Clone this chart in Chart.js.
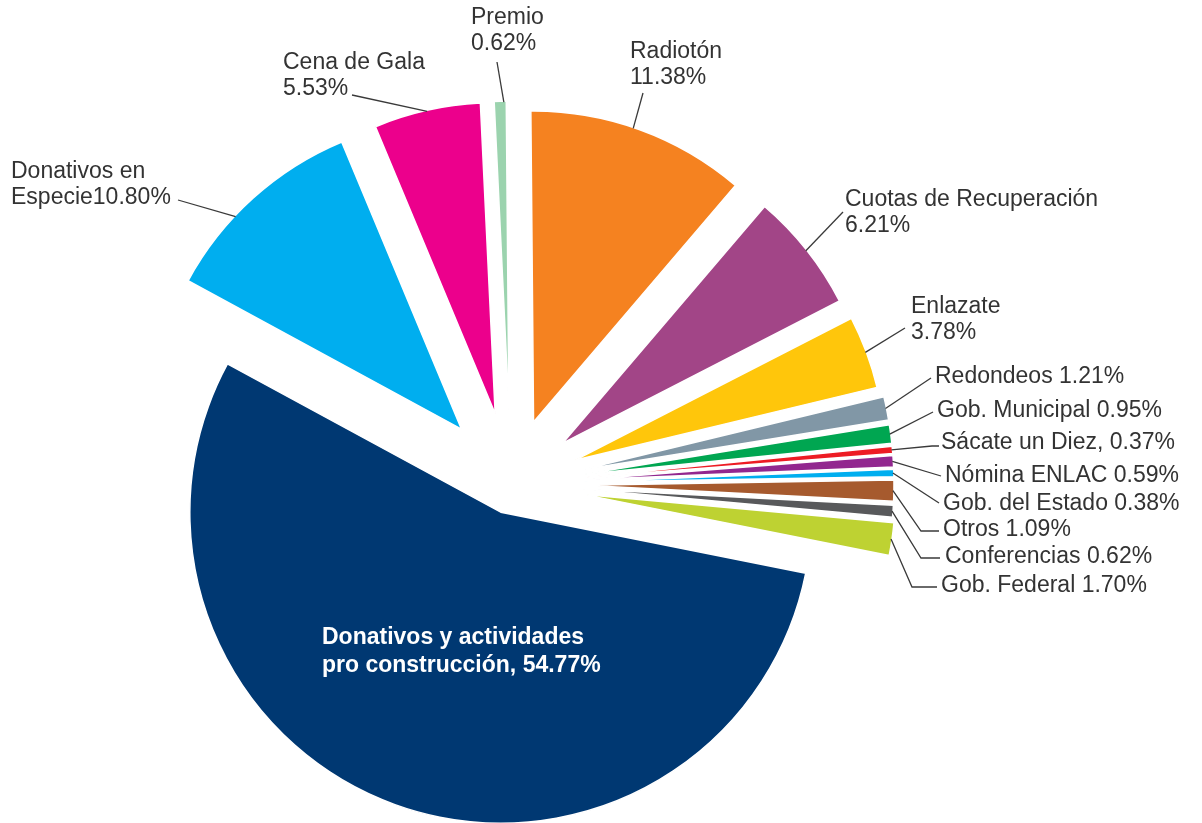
<!DOCTYPE html>
<html lang="es">
<head>
<meta charset="utf-8">
<title>Fuentes de ingreso</title>
<script src="https://cdn.jsdelivr.net/npm/chart.js@4.4.0/dist/chart.umd.min.js"></script>
<style>
  html, body { margin: 0; padding: 0; background: #fff; }
  canvas { display: block; }
</style>
</head>
<body>
<canvas id="pie" width="1202" height="823"></canvas>
<script>
/* Exploded pie of income sources */

const categories = [
    'Radiotón', 'Cuotas de Recuperación', 'Enlazate', 'Redondeos', 'Gob. Municipal',
    'Sácate un Diez,', 'Nómina ENLAC', 'Gob. del Estado', 'Otros', 'Conferencias',
    'Gob. Federal', 'Donativos y actividades pro construcción,', 'Donativos en Especie',
    'Cena de Gala', 'Premio'
];
const values = [11.38, 6.21, 3.78, 1.21, 0.95, 0.37, 0.59, 0.38, 1.09, 0.62, 1.70, 54.77, 10.80, 5.53, 0.62];
const colors = [
    '#f58220', '#a24587', '#ffc60b', '#8197a6', '#00a651',
    '#ed1c24', '#92278f', '#00aeef', '#a65a2e', '#58595b',
    '#bed232', '#003872', '#00aeef', '#ec008c', '#9bd3ae'
];

// how far each slice is pulled out of the pie, in px
const explode = [66, 66, 68, 72, 72, 72, 72, 72, 72, 72, 74, 30, 74, 72, 72];

// label text position (left x, first line middle y), how to wrap, leader line points
const labelLayout = [
    { x: 630, y: 52,  sep: '\n', pts: [[643, 93]], at: 0.47 },
    { x: 845, y: 200, sep: '\n', pts: [[843, 212]] },
    { x: 911, y: 307, sep: '\n', pts: [[905, 328]] },
    { x: 935, y: 377, sep: ' ', pts: [[931, 378]] },
    { x: 937, y: 411, sep: ' ', pts: [[933, 412]] },
    { x: 941, y: 443, sep: ' ', pts: [[932, 446], [939, 446]] },
    { x: 945, y: 476, sep: ' ', pts: [[941, 476]] },
    { x: 943, y: 504, sep: ' ', pts: [[939, 503]] },
    { x: 943, y: 530, sep: ' ', pts: [[921, 531], [939, 531]] },
    { x: 945, y: 557, sep: ' ', pts: [[921, 558], [940, 558]] },
    { x: 941, y: 586, sep: ' ', pts: [[912, 587], [937, 587]] },
    { x: 322, y: 638, sep: ' ', wrap: 3, inside: true },
    { x: 11,  y: 172, sep: '',   wrap: 2, pts: [[178, 200]], at: 0.38 },
    { x: 283, y: 63,  sep: '\n', pts: [[352, 95]] },
    { x: 471, y: 18,  sep: '\n', pts: [[497, 62]], at: 0.8 }
];

const FONT = '"Liberation Sans", Arial, Helvetica, sans-serif';

function labelLines(i) {
    const pct = values[i].toFixed(2) + '%';
    const L = labelLayout[i];
    const words = categories[i].split(' ');
    if (L.wrap) return [words.slice(0, L.wrap).join(' '), words.slice(L.wrap).join(' ') + L.sep + pct];
    if (L.sep === '\n') return [categories[i], pct];
    return [categories[i] + L.sep + pct];
}

// draw every arc pushed out along its own bisector
const explodePlugin = {
    id: 'explode',
    beforeDatasetDraw(chart, args) {
        const ctx = chart.ctx;
        args.meta.data.forEach((arc, i) => {
            const mid = (arc.startAngle + arc.endAngle) / 2;
            ctx.save();
            ctx.translate(Math.cos(mid) * explode[i], Math.sin(mid) * explode[i]);
            arc.draw(ctx);
            ctx.restore();
        });
        return false;
    }
};

const labelPlugin = {
    id: 'sliceLabels',
    afterDatasetsDraw(chart) {
        const ctx = chart.ctx;
        const arcs = chart.getDatasetMeta(0).data;
        ctx.save();
        arcs.forEach((arc, i) => {
            const L = labelLayout[i];
            const lines = labelLines(i);
            if (L.inside) {
                ctx.font = 'bold 23px ' + FONT;
                ctx.fillStyle = '#ffffff';
                ctx.textAlign = 'left';
                ctx.textBaseline = 'middle';
                lines.forEach((t, k) => ctx.fillText(t, L.x, L.y + k * 28));
                return;
            }
            const mid = (arc.startAngle + arc.endAngle) / 2;
            const a = arc.startAngle + (arc.endAngle - arc.startAngle) * (L.at ?? 0.5);
            const ox = arc.x + Math.cos(mid) * explode[i];
            const oy = arc.y + Math.sin(mid) * explode[i];
            const sx = ox + Math.cos(a) * (arc.outerRadius - 1);
            const sy = oy + Math.sin(a) * (arc.outerRadius - 1);
            ctx.strokeStyle = '#3a3a3a';
            ctx.lineWidth = 1.3;
            ctx.beginPath();
            ctx.moveTo(sx, sy);
            L.pts.forEach(p => ctx.lineTo(p[0], p[1]));
            ctx.stroke();

            ctx.font = '23px ' + FONT;
            ctx.fillStyle = '#333333';
            ctx.textAlign = 'left';
            ctx.textBaseline = 'middle';
            lines.forEach((t, k) => ctx.fillText(t, L.x, L.y + k * 26));
        });
        ctx.restore();
    }
};

new Chart(document.getElementById('pie'), {
    type: 'pie',
    data: {
        labels: categories,
        datasets: [{
            data: values,
            backgroundColor: colors,
            borderColor: '#ffffff',
            borderWidth: 1.5
        }]
    },
    options: {
        responsive: false,
        devicePixelRatio: 1,
        animation: false,
        events: [],
        rotation: -0.5,
        radius: 311,
        layout: { padding: { left: 0, right: 180, top: 145, bottom: 0 } },
        plugins: {
            legend: { display: false },
            tooltip: { enabled: false },
            title: { display: false }
        }
    },
    plugins: [explodePlugin, labelPlugin]
});
</script>
</body>
</html>
